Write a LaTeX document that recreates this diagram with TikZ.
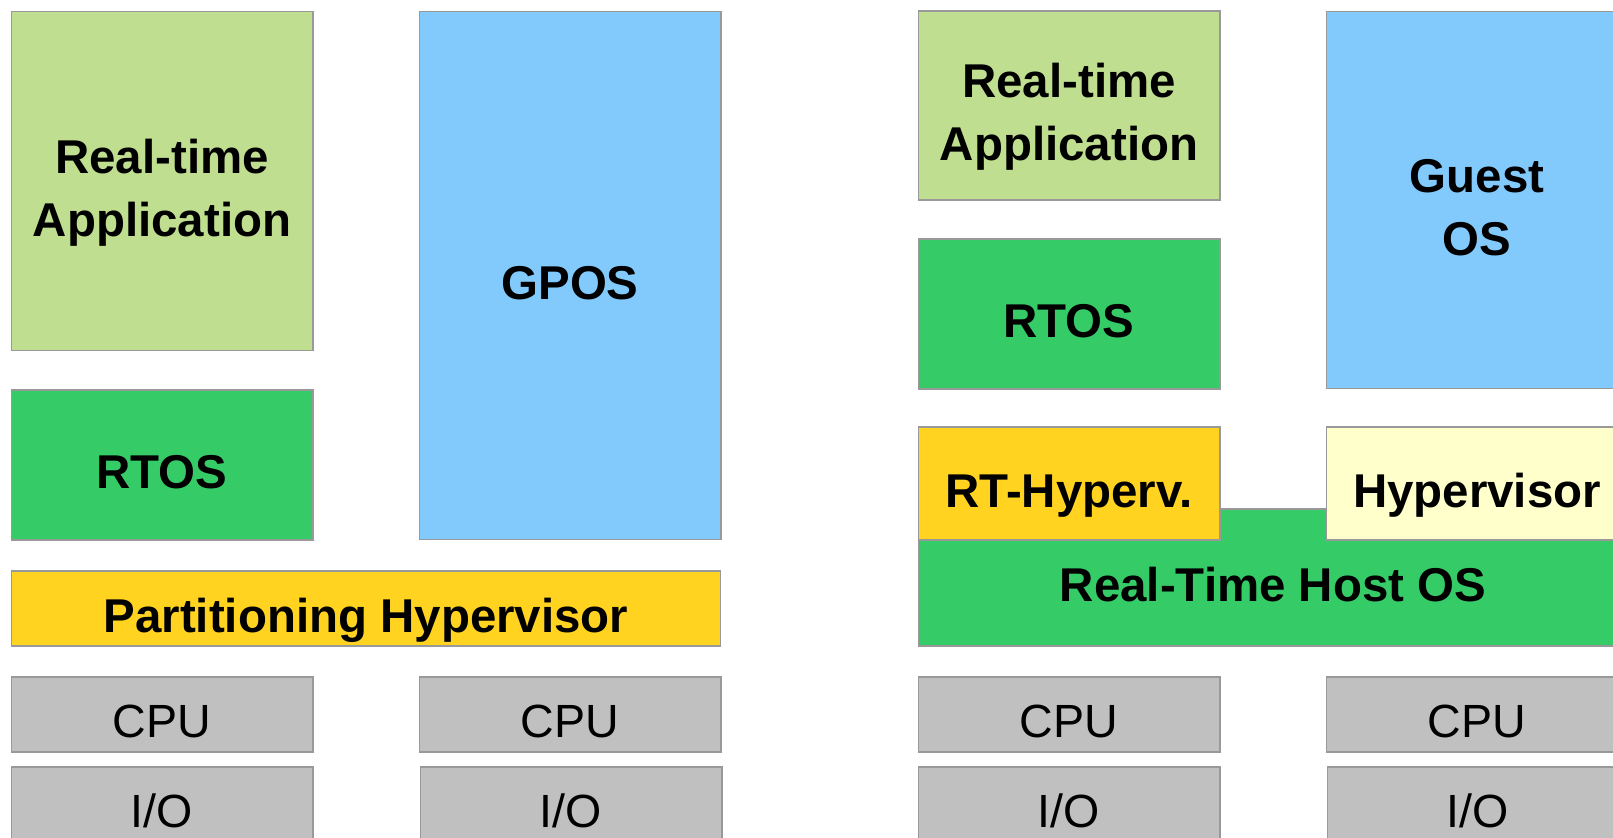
\documentclass[tikz,border=0pt]{standalone}
\usepackage{fontspec}
\setmainfont{Liberation Sans}
\usepackage{tikz}
\usetikzlibrary{positioning}
\definecolor{appgreen}{HTML}{C0DE8F}
\definecolor{osgreen}{HTML}{35CC68}
\definecolor{gpblue}{HTML}{82C9FC}
\definecolor{hvyellow}{HTML}{FFD320}
\definecolor{hvlight}{HTML}{FFFFCC}
\definecolor{hwgray}{HTML}{C0C0C0}

\begin{document}
\begin{tikzpicture}[
  x=0.02cm, y=-0.02cm,
  blk/.style={draw=black!40, line width=0.6pt, inner sep=0pt, align=center,
    minimum width=6.04cm, text height=27pt, text depth=0pt,
    font=\bfseries\fontsize{27}{35.7}\selectfont},
  twoline/.style={text height=62.7pt, text depth=0pt},
  app/.style={blk, twoline, fill=appgreen},
  rtos/.style={blk, fill=osgreen, minimum height=3cm},
  gpos/.style={blk, fill=gpblue},
  hyp/.style={blk, fill=hvyellow},
  hw/.style={blk, fill=hwgray, minimum height=1.5cm, text height=26.5pt,
    font=\fontsize{26.5}{34}\selectfont},
]
\def\xa{162}\def\xb{570}\def\xc{1069}\def\xd{1477}

\useasboundingbox (0,0) rectangle (1613,838);
\clip (0,0) rectangle (1613,838);

% ---------- left: partitioning hypervisor ----------
\node[app, minimum height=6.8cm] (lapp) at (\xa,181) {Real-time\\Application};
\node[rtos] (lrtos) at (\xa,465) {RTOS};
\node[gpos, minimum height=10.58cm] (gpos) at (\xb,275.5) {GPOS};
\node[hyp, minimum width=14.2cm, minimum height=1.5cm] (phyp) at (366,608.5) {Partitioning Hypervisor};

% ---------- right: host OS with hypervisors ----------
\node[app, minimum height=3.78cm] (rapp) at (\xc,105.5) {Real-time\\Application};
\node[rtos] (rrtos) at (\xc,314) {RTOS};
\node[gpos, twoline, minimum height=7.56cm] (guest) at (\xd,200) {Guest\\OS};
\node[blk, fill=osgreen, minimum width=14.2cm, minimum height=2.74cm] (host) at (1273,577.5) {Real-Time Host OS};
\node[hyp, minimum height=2.26cm] (rthyp) at (\xc,483.5) {RT-Hyperv.};
\node[blk, fill=hvlight, minimum height=2.26cm] (ghyp) at (\xd,483.5) {Hypervisor};

% ---------- hardware ----------
\foreach \x/\n in {\xa/1,\xb/2,\xc/3,\xd/4}{
  \node[hw] (cpu\n) at (\x,714.5) {CPU};
}
\foreach \x/\n in {\xa/1,571/2,\xc/3,1478/4}{
  \node[hw] (io\n) at (\x,804.5) {I/O};
}
\end{tikzpicture}
\end{document}
